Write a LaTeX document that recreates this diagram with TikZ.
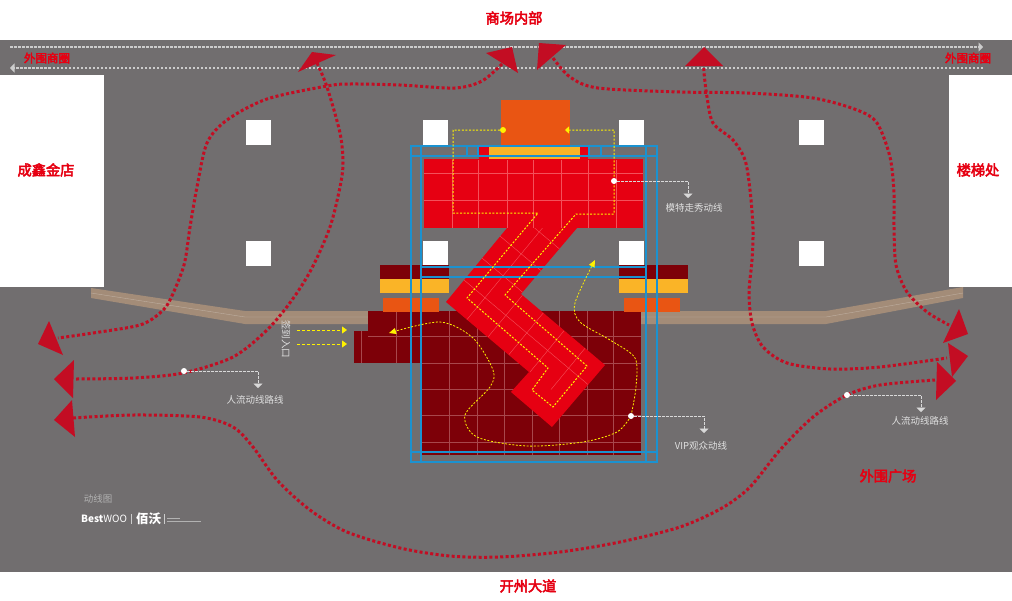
\documentclass[tikz,border=0pt]{standalone}
\usepackage{fontspec}
\setmainfont{Noto Sans CJK SC}
\newfontfamily\heavyfont[FakeBold=3.5]{Noto Sans CJK SC}
\usetikzlibrary{arrows.meta}
\definecolor{ground}{HTML}{716E6F}
\definecolor{hallred}{HTML}{E60012}
\definecolor{crowdred}{HTML}{C30D23}
\definecolor{maroon}{HTML}{7D0008}
\definecolor{stageorange}{HTML}{E95513}
\definecolor{stageyellow}{HTML}{FAB427}
\definecolor{trussblue}{HTML}{1B92D0}
\definecolor{walkway}{HTML}{A38C78}
\definecolor{floorline}{HTML}{A8474C}
\definecolor{stageline}{HTML}{F4505A}

\begin{document}
\begin{tikzpicture}[x=1pt,y=-1pt]
	\tikzstyle{place}=[text=hallred,font=\heavyfont\fontsize{14.2}{14}\selectfont,inner sep=0pt]
	\tikzstyle{smallplace}=[text=hallred,font=\heavyfont\fontsize{11.5}{11}\selectfont,inner sep=0pt]
	\tikzstyle{note}=[text=white!88!black,font=\fontsize{9.5}{10}\selectfont,inner sep=0pt]
	\tikzstyle{crowd}=[crowdred,line width=3pt,dash pattern=on 3pt off 2.4pt]
	\tikzstyle{model}=[yellow,line width=1pt,dash pattern=on 2pt off 1.6pt]
	\tikzstyle{leader}=[white!85!black,line width=0.8pt,dash pattern=on 2.5pt off 1.5pt,-{Triangle[width=9pt,length=4.5pt]}]
	\tikzstyle{lane}=[white!80!black,line width=1.2pt,dash pattern=on 2.5pt off 1.5pt,-{Triangle[width=9pt,length=4.5pt]}]
	\tikzstyle{pin}=[circle,fill=white,inner sep=0pt,minimum size=6pt]
	\tikzstyle{truss}=[trussblue,line width=1.1pt]

	\fill[ground] (0,0) rectangle (1012,600);
	\fill[white] (0,0) rectangle (1012,40);
	\fill[white] (0,572) rectangle (1012,600);
	\fill[white] (0,75) rectangle (104,287);
	\fill[white] (949,75) rectangle (1012,287);
	\foreach \x in {246,423,619,799}
		\foreach \y in {120,241}
			\fill[white] (\x,\y) rectangle +(25,25);

	\fill[walkway] (91,288) -- (245,311) -- (370,311) -- (370,324) -- (245,324) -- (91,298) -- cycle;
	\fill[walkway] (640,311) -- (826,311) -- (963,287) -- (963,298) -- (826,324) -- (640,324) -- cycle;
	\draw[walkway!70!white,line width=0.4pt] (91,293) -- (245,317) -- (370,317) (640,317) -- (826,317) -- (963,293);

	\fill[maroon] (422,311) rectangle (641,455);
	\fill[maroon] (368,311) rectangle (422,363);
	\fill[maroon] (354,331) rectangle (368,363);
	\foreach \x in {449,477,504,532,559,587,613}
		\draw[floorline,line width=0.4pt] (\x,311) -- (\x,455);
	\foreach \y in {363,389,415,442}
		\draw[floorline,line width=0.4pt] (422,\y) -- (641,\y);
	\draw[floorline,line width=0.4pt] (368,336) -- (641,336) (396,311) -- (396,363) (361,331) -- (361,363);

	\foreach \x in {380,619} {
		\fill[maroon] (\x,265) rectangle +(69,14);
		\fill[stageyellow] (\x,279) rectangle +(69,14);
	}
	\fill[stageorange] (383,298) rectangle (439,312);
	\fill[stageorange] (624,298) rectangle (680,312);

	\fill[stageorange] (501,100) rectangle (570,147);
	\fill[hallred] (479,147) rectangle (588,160);
	\fill[stageyellow] (489,147) rectangle (580,160);
	\fill[hallred] (424,159) rectangle (643,228);
	\foreach \x in {452,478,507,533,561,588,616}
		\draw[stageline,line width=0.4pt] (\x,160) -- (\x,228);
	\foreach \y in {173,200}
		\draw[stageline,line width=0.4pt] (424,\y) -- (643,\y);

	\fill[hallred] (507,228) -- (577,228) -- (521,294) -- (605,365) -- (552,427) -- (511,392) -- (529,372) -- (446,302) -- cycle;
	\begin{scope}
		\clip (507,228) -- (577,228) -- (521,294) -- (605,365) -- (552,427) -- (511,392) -- (529,372) -- (446,302) -- cycle;
		\foreach \k in {1,...,7}
			\draw[stageline,line width=0.4pt] (446+21*\k,302+17.5*\k) -- +(80,-97);
		\foreach \k in {1,...,6}
			\draw[stageline,line width=0.4pt] (446+18*\k,302-22*\k) -- +(210,177);
	\end{scope}

	\draw[truss] (411,146) rectangle (657,462);
	\draw[truss] (421,146) -- (421,462) (646,146) -- (646,462);
	\draw[truss] (411,156) -- (657,156) (411,452) -- (657,452);
	\draw[truss] (421,267) rectangle (646,277);
	\draw[truss] (467,146) -- (467,156) (478,146) -- (478,156) (589,146) -- (589,156) (601,146) -- (601,156);

	\node[circle,fill=yellow,inner sep=0pt,minimum size=6pt] (modelstart) at (503,130) {};
	\coordinate (modelend) at (565,130);
	\draw[model,-{Triangle[width=7pt,length=4pt]}] (modelstart) -- (453,130) -- (453,213) -- (538,213) -- (467,298) -- (548,368) -- (532,390) -- (553,407) -- (587,366) -- (505,295) -- (576,214) -- (614,214) -- (614,130) -- (modelend);
	\coordinate (vipstart) at (595,260);
	\coordinate (vipend) at (389,333);
	\draw[model,line width=0.8pt,-{Triangle[width=6pt,length=7pt]}] plot[smooth] coordinates {(631,416) (617,432) (583,442) (527,446) (477,437) (465,415) (490,387) (493,370) (473,338) (440,322) (vipend)};
	\draw[model,line width=0.8pt,-{Triangle[width=6pt,length=7pt]}] plot[smooth] coordinates {(631,416) (636,387) (635,358) (610,340) (580,322) (575,303) (vipstart)};

	\coordinate (gatea) at (297,330);
	\coordinate (gateb) at (297,344);
	\coordinate (stagea) at (347,330);
	\coordinate (stageb) at (347,344);
	\draw[yellow,line width=0.8pt,dash pattern=on 3pt off 2pt,-{Triangle[width=7pt,length=5pt]}] (gatea) -- (stagea);
	\draw[yellow,line width=0.8pt,dash pattern=on 3pt off 2pt,-{Triangle[width=7pt,length=5pt]}] (gateb) -- (stageb);

	\coordinate (laneal) at (10,47);
	\coordinate (lanear) at (983,47);
	\coordinate (lanebr) at (983,68);
	\coordinate (lanebl) at (10,68);
	\draw[lane] (laneal) -- (lanear);
	\draw[lane] (lanebr) -- (lanebl);

	\coordinate (heada) at (58,338);
	\coordinate (headb) at (76,379);
	\coordinate (headc) at (73,418);
	\coordinate (headd) at (947,358);
	\coordinate (heade) at (949,325);
	\coordinate (headf) at (935,380);
	\coordinate (topa) at (502,64);
	\coordinate (topb) at (317,63);
	\coordinate (topc) at (704,68);
	\coordinate (topd) at (553,58);
	\draw[crowd] plot[smooth] coordinates {(topa) (482,81) (455,88) (400,85) (350,84) (327,86) (267,99) (227,120) (207,143) (197,187) (190,227) (184,265) (170,300) (160,313) (140,325) (93,333) (heada)};
	\draw[crowd] plot[smooth] coordinates {(topb) (327,87) (340,133) (343,163) (340,187) (330,227) (312,268) (292,300) (267,330) (233,357) (183,373) (133,378) (headb)};
	\draw[crowd] plot[smooth] coordinates {(headc) (133,415) (200,417) (233,427) (253,447) (277,480) (310,510) (347,532) (400,548) (450,556) (500,557) (560,552) (620,542) (680,527) (722,508) (750,487) (780,450) (813,417) (847,395) (880,385) (headf)};
	\draw[crowd] plot[smooth] coordinates {(topc) (704,73) (707,97) (713,123) (733,140) (745,160) (750,190) (753,228) (752,260) (749,293) (752,323) (763,347) (787,363) (830,369) (880,367) (headd)};
	\draw[crowd] plot[smooth] coordinates {(topd) (570,77) (598,88) (680,92) (747,93) (813,98) (857,110) (877,123) (890,157) (894,193) (894,227) (896,265) (907,292) (927,312) (heade)};
	\foreach \ax/\ay/\bx/\by/\cx/\cy in {49/321/38/344/63/355, 74/360/54/379/73/398, 72/400/54/420/75/437, 937/362/956/381/936/400, 948/343/968/356/952/377, 959/309/968/334/943/343, 312/52/336/55/298/72, 486/53/512/47/518/73, 539/43/566/45/537/70, 704/47/685/66/723/66}
		\fill[crowdred] (\ax,\ay) -- (\bx,\by) -- (\cx,\cy) -- cycle;

	\node[pin] (pinleft) at (184,371) {};
	\node[pin] (pinright) at (847,395) {};
	\node[pin] (pinmodel) at (614,181) {};
	\node[pin] (pinvip) at (631,416) {};
	\coordinate (notelefttip) at (258,388);
	\coordinate (noterighttip) at (921,412);
	\coordinate (notemodeltip) at (688,198);
	\coordinate (notevictip) at (704,433);
	\draw[leader] (pinleft) -| (notelefttip);
	\draw[leader] (pinright) -| (noterighttip);
	\draw[leader] (pinmodel) -| (notemodeltip);
	\draw[leader] (pinvip) -| (notevictip);

	\node[place] (mall) at (514,18) {商场内部};
	\node[place] (road) at (528,586) {开州大道};
	\node[place] (jewel) at (46,170) {成鑫金店};
	\node[place] (stairs) at (978,170) {楼梯处};
	\node[place] (square) at (888,476) {外围广场};
	\node[smallplace] (ringleft) at (47,58) {外围商圈};
	\node[smallplace] (ringright) at (968,58) {外围商圈};
	\node[note] (noteleft) at (255,400) {人流动线路线};
	\node[note] (noteright) at (920,421) {人流动线路线};
	\node[note] (notemodel) at (694,208) {模特走秀动线};
	\node[note] (notevip) at (701,446) {VIP观众动线};
	\node[note,rotate=-90] (gate) at (286,339) {签到入口};
	\node[note,text=white!70!black] (title) at (98,499) {动线图};
	\node[text=white,inner sep=0pt,anchor=west,font=\bfseries\fontsize{10}{10}\selectfont] (brand) at (81,518.5) {Best\textit{\mdseries WOO}};
	\node[text=white,inner sep=0pt,anchor=west,font=\bfseries\fontsize{12.5}{12}\selectfont] (brandcn) at (136,518.5) {佰沃};
	\draw[white!80!black,line width=0.5pt] (131,514) -- (131,524) (164,514) -- (164,524);
	\draw[white!70!black,line width=0.6pt,dash pattern=on 1.5pt off 0.5pt] (167,518) -- (180,518) (167,521) -- (201,521);
\end{tikzpicture}
\end{document}
